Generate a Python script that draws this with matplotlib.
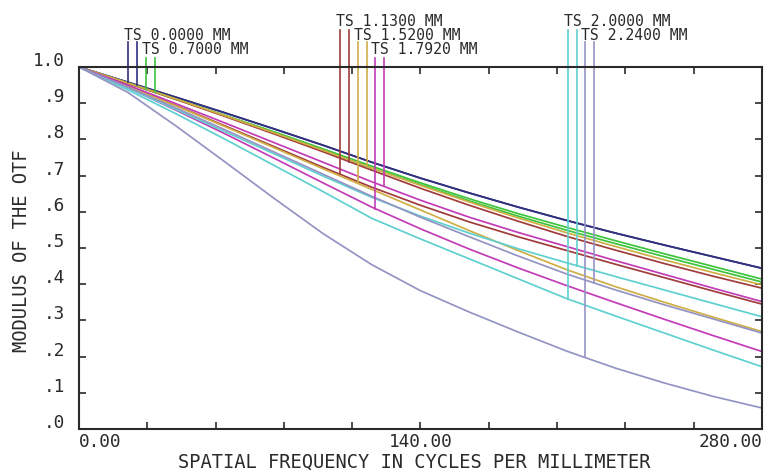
import numpy as np
import matplotlib
matplotlib.use("Agg")
import matplotlib.pyplot as plt
from matplotlib.transforms import ScaledTranslation

# ---------------- data ----------------
freq = [0, 20, 40, 60, 80, 100, 120, 140, 160, 180, 200, 220, 240, 260, 280]

field_labels = ["TS 0.0000 MM", "TS 0.7000 MM", "TS 1.1300 MM", "TS 1.5200 MM",
                "TS 1.7920 MM", "TS 2.0000 MM", "TS 2.2400 MM"]

f1_t = [1.0, 0.958, 0.916, 0.873, 0.829, 0.784, 0.737, 0.693, 0.652, 0.613, 0.576, 0.541, 0.508, 0.476, 0.444]
f1_s = [1.0, 0.958, 0.916, 0.873, 0.829, 0.784, 0.737, 0.693, 0.652, 0.613, 0.576, 0.541, 0.508, 0.476, 0.444]
f2_t = [1.0, 0.955, 0.910, 0.866, 0.821, 0.774, 0.726, 0.680, 0.636, 0.595, 0.557, 0.520, 0.484, 0.449, 0.414]
f2_s = [1.0, 0.956, 0.911, 0.865, 0.818, 0.770, 0.721, 0.675, 0.630, 0.588, 0.549, 0.512, 0.476, 0.441, 0.406]
f3_t = [1.0, 0.948, 0.893, 0.837, 0.780, 0.723, 0.668, 0.618, 0.572, 0.531, 0.493, 0.455, 0.418, 0.381, 0.345]
f3_s = [1.0, 0.955, 0.910, 0.863, 0.815, 0.766, 0.715, 0.665, 0.618, 0.574, 0.532, 0.494, 0.457, 0.422, 0.389]
f4_t = [1.0, 0.947, 0.892, 0.835, 0.777, 0.719, 0.662, 0.605, 0.548, 0.493, 0.440, 0.393, 0.350, 0.309, 0.269]
f4_s = [1.0, 0.956, 0.911, 0.865, 0.818, 0.770, 0.721, 0.673, 0.627, 0.583, 0.542, 0.504, 0.467, 0.432, 0.398]
f5_t = [1.0, 0.943, 0.880, 0.815, 0.748, 0.680, 0.613, 0.553, 0.497, 0.445, 0.396, 0.349, 0.303, 0.258, 0.214]
f5_s = [1.0, 0.950, 0.898, 0.845, 0.791, 0.737, 0.683, 0.632, 0.585, 0.543, 0.504, 0.465, 0.427, 0.389, 0.352]
f6_t = [1.0, 0.937, 0.870, 0.800, 0.728, 0.656, 0.582, 0.525, 0.470, 0.415, 0.360, 0.312, 0.265, 0.218, 0.172]
f6_s = [1.0, 0.942, 0.882, 0.821, 0.760, 0.699, 0.640, 0.588, 0.541, 0.498, 0.459, 0.421, 0.384, 0.347, 0.310]
f7_t = [1.0, 0.930, 0.836, 0.737, 0.637, 0.540, 0.454, 0.382, 0.323, 0.268, 0.215, 0.168, 0.127, 0.090, 0.058]
f7_s = [1.0, 0.944, 0.886, 0.826, 0.765, 0.704, 0.643, 0.585, 0.531, 0.478, 0.428, 0.384, 0.343, 0.304, 0.265]

tang = [f1_t, f2_t, f3_t, f4_t, f5_t, f6_t, f7_t]
sag = [f1_s, f2_s, f3_s, f4_s, f5_s, f6_s, f7_s]

# frequencies where the field markers are drawn (T, S)
marker_t = [20.1, 27.5, 107.0, 114.3, 121.3, 200.5, 207.4]
marker_s = [23.8, 31.2, 110.7, 118.0, 125.0, 204.2, 211.1]
label_row = [1, 2, 0, 1, 2, 0, 1]

x_ticks = [0, 28, 56, 84, 112, 140, 168, 196, 224, 252, 280]
x_ticklabels = ["0.00", "", "", "", "", "140.00", "", "", "", "", "280.00"]
y_ticks = [0.0, 0.1, 0.2, 0.3, 0.4, 0.5, 0.6, 0.7, 0.8, 0.9, 1.0]
y_ticklabels = [".0", ".1", ".2", ".3", ".4", ".5", ".6", ".7", ".8", ".9", "1.0"]

colors = ["#30307f", "#3cc43c", "#a03c3c", "#cfae45", "#c23cb8", "#5fd0d0", "#9494c4"]

# ---------------- figure ----------------
W, H = 766, 471
fig = plt.figure(figsize=(W / 100, H / 100), dpi=100)
ax_l, ax_r, ax_t, ax_b = 79, 762, 67, 429
ax = fig.add_axes([ax_l / W, 1 - ax_b / H, (ax_r - ax_l) / W, (ax_b - ax_t) / H])

mono = "DejaVu Sans Mono"
tc = "#2a2a2a"

for i in range(7):
    ax.plot(freq, tang[i], color=colors[i], lw=1.25, solid_capstyle="butt")
    ax.plot(freq, sag[i], color=colors[i], lw=1.25, solid_capstyle="butt")

# field markers
px_per_unit = ax_b - ax_t
row_text_px = [21, 35, 50]
row_top_px = [30, 42, 58]
for i in range(7):
    r = label_row[i]
    ytop = 1 + (ax_t - row_top_px[r]) / px_per_unit
    ytxt = 1 + (ax_t - row_text_px[r]) / px_per_unit
    for xm, curve in ((marker_t[i], tang[i]), (marker_s[i], sag[i])):
        yend = np.interp(xm, freq, curve)
        ax.plot([xm, xm], [yend, ytop], color=colors[i], lw=1.2, clip_on=False)
    ax.text(marker_t[i] - 1.6, ytxt, field_labels[i], family=mono, fontsize=10.6,
            color=tc, ha="left", va="center", clip_on=False)

ax.set_xlim(0, 280)
ax.set_ylim(0, 1)
ax.set_xticks(x_ticks)
ax.set_xticklabels(x_ticklabels, family=mono, fontsize=12.8, color=tc)
ax.set_yticks(y_ticks)
ax.set_yticklabels(y_ticklabels, family=mono, fontsize=12.8, color=tc)
ax.tick_params(direction="in", length=5, width=1.2, color=tc, top=True, right=True)
ax.tick_params(axis="x", pad=3)
ax.tick_params(axis="y", pad=10)
for sp in ax.spines.values():
    sp.set_linewidth(1.5)
    sp.set_color(tc)

has = ["left"] + ["center"] * 9 + ["right"]
for lab, ha in zip(ax.get_xticklabels(), has):
    lab.set_ha(ha)
off = ScaledTranslation(0, 8 / 100, fig.dpi_scale_trans)
for lab in ax.get_yticklabels():
    lab.set_transform(lab.get_transform() + off)

fig.text(22 / W, 1 - 251 / H, "MODULUS OF THE OTF", family=mono, fontsize=13.5,
         color=tc, rotation=90, ha="center", va="center")
fig.text(414 / W, 1 - 462 / H, "SPATIAL FREQUENCY IN CYCLES PER MILLIMETER",
         family=mono, fontsize=13.5, color=tc, ha="center", va="center")

fig.savefig("out.png", dpi=100, facecolor="white")
